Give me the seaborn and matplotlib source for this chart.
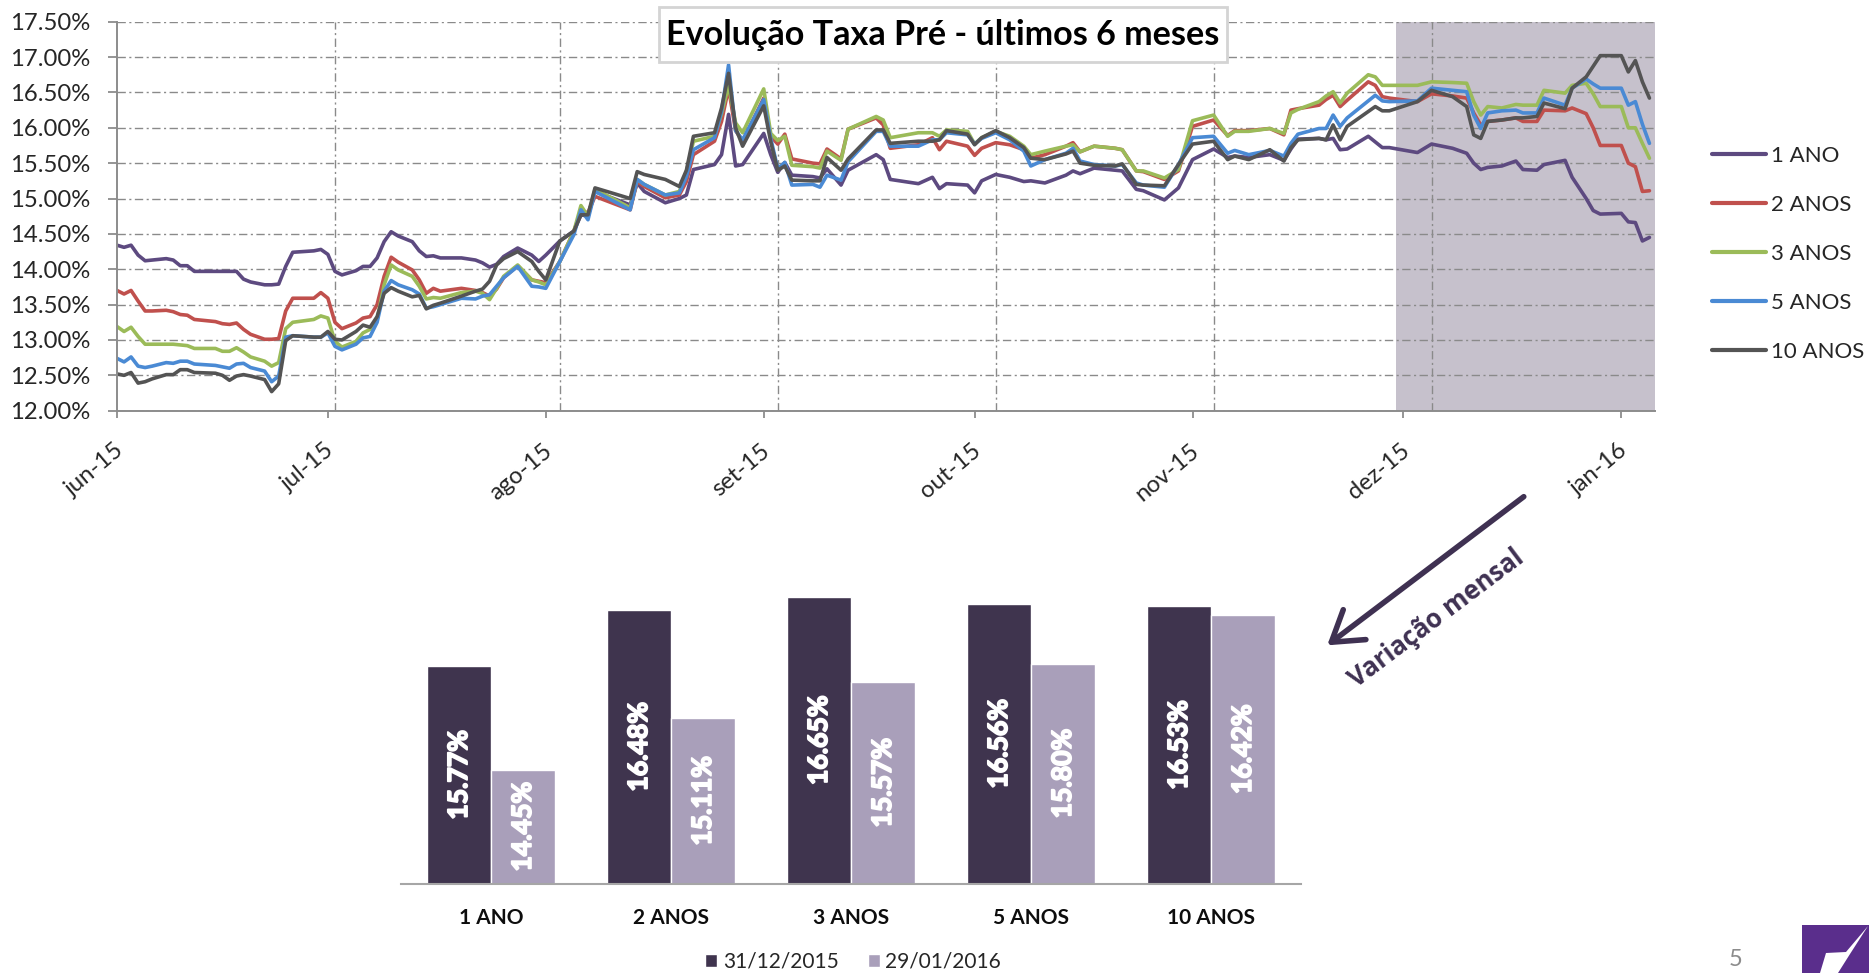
import numpy as np
import pandas as pd
import matplotlib
matplotlib.use("Agg")
import matplotlib.pyplot as plt
import matplotlib.patheffects as pe
import seaborn as sns
from matplotlib.patches import Rectangle, Polygon, FancyArrowPatch
from matplotlib.ticker import FuncFormatter
from matplotlib.transforms import ScaledTranslation

W, H = 1869, 973

# ---- line chart data (daily curve, days counted from 2015-06-01) ----
prazos = ["1 ANO", "2 ANOS", "3 ANOS", "5 ANOS", "10 ANOS"]
cores = {"1 ANO": "#5d4a80", "2 ANOS": "#c0504d", "3 ANOS": "#9bbb59",
         "5 ANOS": "#4a8ad4", "10 ANOS": "#545454"}

dias = [0, 1, 2, 3, 4, 5, 7, 8, 9, 10, 11, 14, 15, 16, 17, 18, 19, 21, 22, 23, 24, 25, 28, 29, 30,
        31, 32, 34, 35, 36, 37, 38, 39, 40, 42, 43, 44, 45, 46, 49, 51, 52, 53, 54, 55, 57,
        59, 60, 61, 63, 65, 66, 67, 68, 73, 74, 75, 78, 80, 81, 82, 85, 86, 87, 88, 89, 92, 93,
        94, 95, 96, 99, 100, 101, 103, 104, 108, 109, 110, 114,
        116, 117, 118, 121, 122, 123, 125, 127, 129, 130, 132, 135, 136, 137, 139, 142, 143, 145,
        146, 149, 151, 153, 156, 158, 159, 161, 164, 166, 167, 168,
        171, 172, 173, 174, 175, 178, 179, 180, 181, 185, 187, 190, 192, 193, 194, 195, 197, 199,
        200, 202, 203, 206, 207, 209, 210, 211, 214, 215, 216, 217, 218]

taxa_1ano = [14.34, 14.31, 14.34, 14.20, 14.12, 14.13, 14.15, 14.13, 14.05, 14.05, 13.97, 13.97, 13.97,
             13.97, 13.97, 13.86, 13.82, 13.78, 13.78, 13.79, 14.04, 14.24, 14.26, 14.28, 14.21, 13.97,
             13.92, 13.98, 14.04, 14.04, 14.16, 14.39, 14.53, 14.47, 14.39, 14.26, 14.18, 14.19, 14.16,
             14.16, 14.13, 14.09, 14.03, 14.07, 14.18, 14.30,
             14.20, 14.11, 14.20, 14.40, 14.54, 14.77, 14.75, 15.10, 14.91, 15.22, 15.10, 14.94, 15.00,
             15.05, 15.41, 15.48, 15.62, 16.19, 15.46, 15.48, 15.92, 15.62, 15.37, 15.51, 15.33, 15.31,
             15.29, 15.42, 15.19, 15.40, 15.62, 15.55, 15.27, 15.21,
             15.30, 15.14, 15.21, 15.19, 15.08, 15.25, 15.34, 15.30, 15.24, 15.25, 15.22, 15.33, 15.39,
             15.35, 15.43, 15.40, 15.39, 15.13, 15.11, 14.98, 15.15, 15.55, 15.70, 15.58, 15.60, 15.58,
             15.62, 15.54, 15.70, 15.84,
             15.85, 15.83, 15.85, 15.69, 15.70, 15.88, 15.80, 15.72, 15.72, 15.65, 15.77, 15.71, 15.64,
             15.50, 15.41, 15.44, 15.46, 15.53, 15.41, 15.40, 15.48, 15.54, 15.30, 15.00, 14.83, 14.78,
             14.79, 14.67, 14.66, 14.40, 14.45]

taxa_2anos = [13.70, 13.65, 13.70, 13.55, 13.41, 13.41, 13.42, 13.40, 13.36, 13.35, 13.29, 13.26, 13.23,
              13.22, 13.24, 13.15, 13.08, 13.01, 13.01, 13.02, 13.41, 13.59, 13.59, 13.67, 13.59, 13.25,
              13.16, 13.24, 13.31, 13.33, 13.50, 13.90, 14.17, 14.10, 13.99, 13.85, 13.66, 13.73, 13.69,
              13.73, 13.70, 13.67, 13.62, 13.72, 13.88, 14.05,
              13.85, 13.83, 13.81, 14.11, 14.54, 14.82, 14.80, 15.03, 14.84, 15.24, 15.17, 15.01, 15.05,
              15.24, 15.62, 15.81, 16.09, 16.56, 15.96, 15.81, 16.42, 15.88, 15.77, 15.91, 15.56, 15.50,
              15.49, 15.70, 15.56, 15.98, 16.14, 16.04, 15.71, 15.76,
              15.86, 15.69, 15.81, 15.74, 15.61, 15.71, 15.79, 15.76, 15.69, 15.57, 15.62, 15.74, 15.79,
              15.66, 15.74, 15.71, 15.69, 15.39, 15.38, 15.27, 15.39, 16.02, 16.11, 15.89, 15.96, 15.96,
              15.99, 15.90, 16.25, 16.27,
              16.32, 16.40, 16.46, 16.30, 16.39, 16.65, 16.60, 16.44, 16.42, 16.37, 16.48, 16.45, 16.42,
              16.21, 16.04, 16.09, 16.11, 16.14, 16.09, 16.09, 16.25, 16.24, 16.28, 16.20, 16.00, 15.75,
              15.75, 15.50, 15.45, 15.10, 15.11]

taxa_3anos = [13.19, 13.12, 13.18, 13.05, 12.94, 12.94, 12.94, 12.94, 12.93, 12.92, 12.88, 12.88, 12.84,
              12.84, 12.89, 12.83, 12.76, 12.70, 12.63, 12.68, 13.16, 13.25, 13.29, 13.34, 13.31, 12.98,
              12.90, 12.98, 13.10, 13.15, 13.29, 13.78, 14.06, 13.99, 13.90, 13.76, 13.58, 13.60, 13.59,
              13.67, 13.69, 13.66, 13.57, 13.73, 13.90, 14.06,
              13.85, 13.82, 13.78, 14.11, 14.54, 14.90, 14.75, 15.13, 14.87, 15.27, 15.20, 15.05, 15.10,
              15.38, 15.81, 15.88, 16.20, 16.60, 16.07, 15.93, 16.55, 15.92, 15.82, 15.88, 15.47, 15.45,
              15.43, 15.67, 15.54, 15.98, 16.16, 16.11, 15.86, 15.93,
              15.93, 15.88, 15.97, 15.95, 15.77, 15.86, 15.95, 15.88, 15.74, 15.62, 15.67, 15.74, 15.76,
              15.66, 15.74, 15.71, 15.69, 15.39, 15.39, 15.29, 15.41, 16.10, 16.18, 15.88, 15.95, 15.95,
              15.99, 15.92, 16.21, 16.26,
              16.37, 16.45, 16.51, 16.35, 16.49, 16.75, 16.72, 16.60, 16.60, 16.60, 16.65, 16.64, 16.63,
              16.37, 16.18, 16.30, 16.28, 16.33, 16.32, 16.32, 16.53, 16.49, 16.60, 16.63, 16.48, 16.30,
              16.30, 16.00, 16.00, 15.78, 15.57]

taxa_5anos = [12.74, 12.69, 12.76, 12.63, 12.61, 12.63, 12.68, 12.67, 12.70, 12.70, 12.66, 12.64, 12.62,
              12.60, 12.66, 12.67, 12.61, 12.56, 12.41, 12.49, 13.04, 13.06, 13.04, 13.04, 13.10, 12.91,
              12.86, 12.94, 13.03, 13.05, 13.25, 13.69, 13.84, 13.78, 13.71, 13.65, 13.45, 13.47, 13.50,
              13.59, 13.58, 13.62, 13.64, 13.76, 13.88, 14.04,
              13.76, 13.75, 13.73, 14.11, 14.49, 14.84, 14.70, 15.10, 14.84, 15.27, 15.20, 15.05, 15.08,
              15.31, 15.69, 15.86, 16.23, 16.89, 15.96, 15.83, 16.40, 15.85, 15.42, 15.51, 15.19, 15.20,
              15.16, 15.33, 15.26, 15.52, 15.95, 15.95, 15.74, 15.74,
              15.83, 15.83, 15.93, 15.90, 15.77, 15.85, 15.93, 15.83, 15.67, 15.46, 15.55, 15.64, 15.71,
              15.53, 15.48, 15.46, 15.48, 15.22, 15.19, 15.16, 15.48, 15.86, 15.88, 15.64, 15.68, 15.62,
              15.68, 15.60, 15.78, 15.91,
              15.99, 15.99, 16.18, 16.02, 16.14, 16.38, 16.46, 16.38, 16.37, 16.38, 16.56, 16.53, 16.51,
              16.18, 15.99, 16.21, 16.24, 16.25, 16.21, 16.21, 16.42, 16.32, 16.56, 16.69, 16.62, 16.56,
              16.56, 16.32, 16.37, 16.05, 15.78]

taxa_10anos = [12.52, 12.50, 12.54, 12.39, 12.41, 12.45, 12.51, 12.51, 12.58, 12.58, 12.54, 12.53, 12.50,
               12.43, 12.49, 12.51, 12.49, 12.44, 12.27, 12.38, 12.99, 13.06, 13.04, 13.04, 13.12, 13.01,
               13.00, 13.12, 13.21, 13.18, 13.33, 13.66, 13.74, 13.69, 13.61, 13.63, 13.44, 13.49, 13.52,
               13.62, 13.69, 13.72, 13.83, 14.06, 14.15, 14.25,
               14.11, 13.97, 13.85, 14.40, 14.54, 14.77, 14.77, 15.15, 15.00, 15.38, 15.34, 15.27, 15.17,
               15.40, 15.88, 15.93, 16.28, 16.77, 16.00, 15.74, 16.31, 15.80, 15.40, 15.46, 15.26, 15.25,
               15.25, 15.58, 15.40, 15.56, 15.97, 15.97, 15.78, 15.81,
               15.81, 15.83, 15.96, 15.91, 15.76, 15.86, 15.96, 15.86, 15.72, 15.57, 15.55, 15.63, 15.67,
               15.50, 15.47, 15.46, 15.49, 15.20, 15.19, 15.18, 15.48, 15.77, 15.81, 15.55, 15.60, 15.55,
               15.69, 15.53, 15.72, 15.83,
               15.85, 15.83, 16.04, 15.83, 16.02, 16.23, 16.30, 16.24, 16.24, 16.37, 16.53, 16.44, 16.30,
               15.90, 15.85, 16.09, 16.11, 16.14, 16.14, 16.16, 16.35, 16.27, 16.56, 16.72, 16.87, 17.02,
               17.02, 16.79, 16.95, 16.65, 16.42]

meses = ["2015-06-01", "2015-07-01", "2015-08-01", "2015-09-01", "2015-10-01",
         "2015-11-01", "2015-12-01", "2016-01-01"]
meses_labels = ["jun-15", "jul-15", "ago-15", "set-15", "out-15", "nov-15", "dez-15", "jan-16"]
grade_x = ["2015-07-02", "2015-08-03", "2015-09-03", "2015-10-04", "2015-11-04", "2015-12-05"]

# ---- bar chart data ----
datas_barras = ["31/12/2015", "29/01/2016"]
taxa_dez = [15.77, 16.48, 16.65, 16.56, 16.53]
taxa_jan = [14.45, 15.11, 15.57, 15.80, 16.42]

sns.set_style("white")
plt.rcParams["font.family"] = ["Lato", "DejaVu Sans"]

fig = plt.figure(figsize=(W / 100, H / 100), dpi=100)
renderer = fig.canvas.get_renderer()


def fig_box(x0, y0, x1, y1):
    # pixel box measured from the top-left -> figure fraction rect
    return [x0 / W, 1 - y1 / H, (x1 - x0) / W, (y1 - y0) / H]


def fit_size(texto, alvo_px, base=20, **kw):
    # font size that gives the text a width of alvo_px pixels
    t = fig.text(0, 0, texto, fontsize=base, **kw)
    w = t.get_window_extent(renderer=renderer).width
    t.remove()
    return base * alvo_px / w


# ================= line chart =================
ax1 = fig.add_axes(fig_box(117, 21.7, 1655, 410.7))

inicio = pd.Timestamp("2015-06-01")
datas = inicio + pd.to_timedelta(dias, unit="D")
series = dict(zip(prazos, [taxa_1ano, taxa_2anos, taxa_3anos, taxa_5anos, taxa_10anos]))
df = pd.concat([pd.DataFrame({"data": datas, "prazo": p, "taxa": v}) for p, v in series.items()])

sns.lineplot(data=df, x="data", y="taxa", hue="prazo", hue_order=prazos, palette=cores,
             linewidth=2.6, estimator=None, ax=ax1)

# last month highlighted
ax1.axvspan(pd.Timestamp("2015-11-30"), pd.Timestamp("2016-01-05 19:00"),
            color="#c6c1cc", lw=0, zorder=0.2)

ax1.set_xlim(inicio, pd.Timestamp("2016-01-05 19:00"))
ax1.set_ylim(12, 17.5)
ax1.set_yticks(np.arange(12, 17.51, 0.5))
ax1.yaxis.set_major_formatter(FuncFormatter(lambda v, _: f"{v:.2f}%"))
ax1.set_xticks(pd.to_datetime(meses).to_pydatetime())
ax1.set_xticklabels(meses_labels, rotation=40, ha="right", va="top", rotation_mode="anchor")
ax1.set_xticks(pd.to_datetime(grade_x).to_pydatetime(), minor=True)
ax1.set_xlabel("")
ax1.set_ylabel("")

ax1.set_axisbelow(True)
ax1.grid(False)
grid_kw = dict(color="#8a8a8a", linewidth=1, linestyle=(0, (6, 2.5, 1.5, 2.5)))
ax1.grid(axis="y", which="major", **grid_kw)
ax1.grid(axis="x", which="minor", **grid_kw)

for s in ["top", "right"]:
    ax1.spines[s].set_visible(False)
for s in ["left", "bottom"]:
    ax1.spines[s].set_color("#8c8c8c")
    ax1.spines[s].set_linewidth(1.4)

tick_size = fit_size("17.50%", 80)
ax1.tick_params(axis="y", direction="out", length=6.5, width=1.3, color="#8c8c8c",
                labelsize=tick_size, labelcolor="#262626", pad=13, left=True)
ax1.tick_params(axis="x", which="major", direction="out", length=5, width=1.3, color="#8c8c8c",
                labelsize=tick_size, labelcolor="#262626", pad=16, bottom=True)
ax1.tick_params(axis="x", which="minor", length=0)
for lbl in ax1.get_xticklabels():
    lbl.set_transform(lbl.get_transform() + ScaledTranslation(-3 / 100, 0, fig.dpi_scale_trans))

h, l = ax1.get_legend_handles_labels()
leg = ax1.legend(h, l, loc="upper left", bbox_to_anchor=(1712 / W, 1 - 146 / H),
                 bbox_transform=fig.transFigure, frameon=False, fontsize=16,
                 handlelength=2.45, handletextpad=0.2, labelspacing=1.3,
                 borderpad=0, borderaxespad=0)
for line in leg.get_lines():
    line.set_linewidth(3)

# title box
fig.add_artist(Rectangle((659 / W, 1 - 61.7 / H), (1227 - 659) / W, (61.7 - 7.3) / H,
                         transform=fig.transFigure, facecolor="white", edgecolor="#d4d4d4",
                         lw=2, zorder=5))
fig.text(943 / W, 1 - 35 / H, "Evolução Taxa Pré - últimos 6 meses", ha="center", va="center",
         fontsize=fit_size("Evolução Taxa Pré - últimos 6 meses", 553, fontweight="bold"),
         fontweight="bold", color="black", zorder=6)

# ================= bar chart =================
ax2 = fig.add_axes(fig_box(401, 884 - 314.8, 1301, 884))
dfb = pd.DataFrame({"prazo": prazos * 2,
                    "data": [datas_barras[0]] * 5 + [datas_barras[1]] * 5,
                    "taxa": taxa_dez + taxa_jan})
sns.barplot(data=dfb, x="prazo", y="taxa", hue="data", palette=["#3f3052", "#a89bbe"],
            width=0.71, edgecolor="white", linewidth=1, ax=ax2)
ax2.set_ylim(13, 17)
base = ax2.get_ylim()[0]

rot_size = fit_size("15.77%", 90, fontweight="bold")
for cont in ax2.containers:
    for bar in cont:
        v = bar.get_height()
        ax2.text(bar.get_x() + bar.get_width() / 2, (base + v) / 2, f"{v:.2f}%",
                 rotation=90, ha="center", va="center", color="white", fontsize=rot_size,
                 fontweight="bold",
                 path_effects=[pe.withStroke(linewidth=1.3, foreground="white")])

sns.despine(ax=ax2, left=True)
ax2.set_yticks([])
ax2.set_xlabel("")
ax2.set_ylabel("")
ax2.spines["bottom"].set_color("#a6a6a6")
ax2.spines["bottom"].set_linewidth(1.5)
ax2.tick_params(axis="x", length=0, pad=17, labelsize=15, labelcolor="#0d0d0d")
for lbl in ax2.get_xticklabels():
    lbl.set_fontweight("bold")

hb, lb = ax2.get_legend_handles_labels()
ax2.legend_.remove()
fig.legend(hb, lb, loc="center", bbox_to_anchor=(853 / W, 1 - 962 / H), ncol=2, frameon=False,
           fontsize=15, handlelength=0.6, handleheight=0.6, handletextpad=0.25,
           columnspacing=1.4, borderpad=0)

# ================= annotations =================
fig.add_artist(FancyArrowPatch((1526 / W, 1 - 495 / H), (1325 / W, 1 - 647 / H),
                               transform=fig.transFigure,
                               arrowstyle="->,head_length=0.7,head_width=0.45",
                               mutation_scale=30, lw=4, color="#3f3152"))
fig.text(1436 / W, 1 - 619 / H, "Variação mensal", rotation=37, rotation_mode="anchor",
         ha="center", va="center", fontsize=18.5, fontweight="bold", color="#3f3152",
         family=["Open Sans", "DejaVu Sans"])

fig.text(1736 / W, 1 - 960 / H, "5", ha="center", va="center", fontsize=17, color="#8c8c8c")

# logo
fig.add_artist(Rectangle((1802 / W, 0), 67 / W, 48 / H, transform=fig.transFigure,
                         facecolor="#5a2e8c", lw=0))
logo_pts = [(1868, 926), (1850, 954), (1838, 973), (1820, 973), (1826, 953), (1846, 952)]
fig.add_artist(Polygon([(x / W, 1 - y / H) for x, y in logo_pts], closed=True,
                       transform=fig.transFigure, facecolor="white", lw=0))

fig.savefig("out.png", dpi=100)
